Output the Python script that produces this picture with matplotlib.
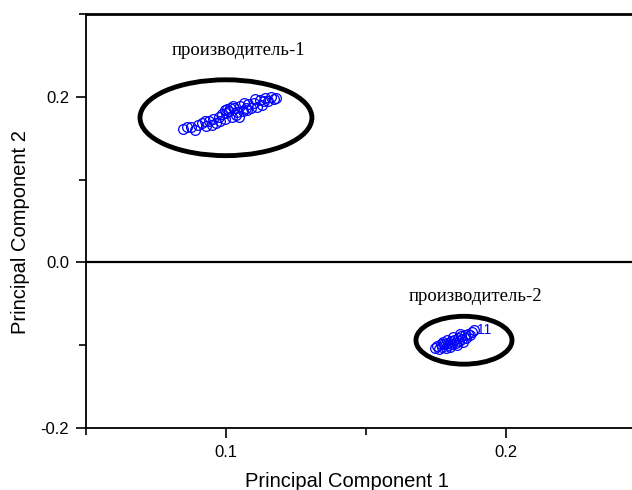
import matplotlib.pyplot as plt
from matplotlib.patches import Ellipse
from matplotlib.ticker import MultipleLocator

plt.rcParams['font.family'] = 'Liberation Sans'

# group 1 (производитель-1)
x1 = [0.0845, 0.0860, 0.0875, 0.0890, 0.0900, 0.0915, 0.0930, 0.0940, 0.0955, 0.0965,
      0.0975, 0.0985, 0.0995, 0.1000, 0.1010, 0.1020, 0.1030, 0.1040, 0.1050, 0.1060,
      0.1070, 0.1080, 0.1090, 0.1100, 0.1110, 0.1120, 0.1130, 0.1140, 0.1150, 0.1160,
      0.1170, 0.1180, 0.1005, 0.1035, 0.1065, 0.0950, 0.0980, 0.1015, 0.1045, 0.1075,
      0.0925, 0.1105, 0.1135, 0.0995, 0.1025]
y1 = [0.161, 0.163, 0.164, 0.160, 0.166, 0.168, 0.165, 0.171, 0.173, 0.168,
      0.176, 0.179, 0.173, 0.181, 0.183, 0.176, 0.186, 0.182, 0.189, 0.183,
      0.187, 0.191, 0.186, 0.193, 0.188, 0.196, 0.190, 0.199, 0.195, 0.200,
      0.197, 0.199, 0.185, 0.178, 0.192, 0.166, 0.171, 0.187, 0.176, 0.184,
      0.171, 0.197, 0.195, 0.184, 0.189]

# group 2 (производитель-2)
x2 = [0.1745, 0.1752, 0.1760, 0.1768, 0.1772, 0.1780, 0.1784, 0.1792, 0.1796, 0.1804,
      0.1808, 0.1816, 0.1820, 0.1828, 0.1832, 0.1840, 0.1844, 0.1852, 0.1856, 0.1864,
      0.1870, 0.1878, 0.1885, 0.1788, 0.1812, 0.1836, 0.1848, 0.1776, 0.1800, 0.1824]
y2 = [-0.103, -0.101, -0.104, -0.099, -0.102, -0.098, -0.103, -0.097, -0.100, -0.095,
      -0.099, -0.094, -0.097, -0.091, -0.095, -0.089, -0.093, -0.088, -0.091, -0.086,
      -0.088, -0.084, -0.082, -0.094, -0.090, -0.086, -0.096, -0.096, -0.102, -0.100]

# ellipses: center x, center y, width, height
ell_x = [0.1, 0.185]
ell_y = [0.1747, -0.094]
ell_w = [0.0614, 0.0343]
ell_h = [0.0916, 0.0578]

group_labels = ['производитель-1', 'производитель-2']
label_x = [0.1043, 0.189]
label_y = [0.2554, -0.041]

fig = plt.figure(figsize=(6.32, 4.9), dpi=100)
ax = fig.add_axes([0.136, 0.1265, 0.864, 0.845])

ax.plot(x1, y1, 'o', mfc='none', mec='blue', ms=7, mew=0.9)
ax.plot(x2, y2, 'o', mfc='none', mec='blue', ms=7, mew=0.9)
ax.text(0.1897, -0.0815, '11', color='blue', fontsize=10, va='center', zorder=5)

for cx, cy, w, h in zip(ell_x, ell_y, ell_w, ell_h):
    ax.add_patch(Ellipse((cx, cy), w, h, fill=False, ec='black', lw=3.5))

for t, lx, ly in zip(group_labels, label_x, label_y):
    ax.text(lx, ly, t, ha='center', va='center', fontsize=13.5, family='Liberation Serif')

ax.axhline(0, color='black', lw=1.6)

ax.set_xlim(0.05, 0.245)
ax.set_ylim(-0.2, 0.3)
ax.xaxis.set_minor_locator(MultipleLocator(0.05))
ax.yaxis.set_minor_locator(MultipleLocator(0.1))
ax.set_xticks([0.1, 0.2])
ax.set_xticklabels(['0.1', '0.2'])
ax.set_yticks([-0.2, 0.0, 0.2])
ax.set_yticklabels(['-0.2', '0.0', '0.2'])
ax.tick_params(which='major', length=7, width=1.2, labelsize=12, pad=5)
ax.tick_params(which='minor', length=5, width=1.2)

ax.spines['right'].set_visible(False)
ax.spines['left'].set_linewidth(1.3)
ax.spines['bottom'].set_linewidth(1.3)
ax.spines['top'].set_linewidth(2)

fig.text(0.549, 0.018, 'Principal Component 1', ha='center', va='center', fontsize=14.5)
fig.text(0.032, 0.527, 'Principal Component 2', ha='center', va='center', rotation=90, fontsize=14.5)

fig.savefig('out.png', dpi=100)
